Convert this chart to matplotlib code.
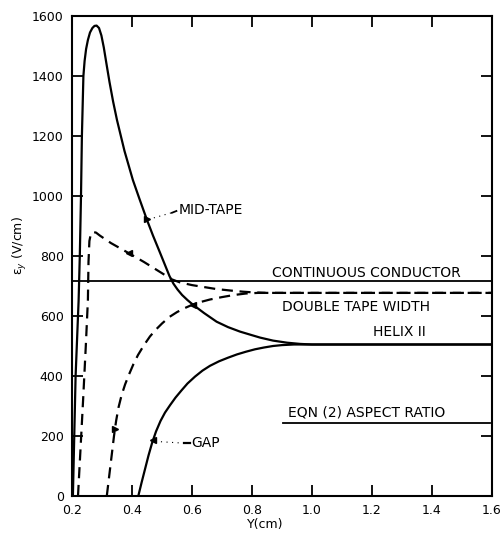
import matplotlib
matplotlib.use("Agg")
import matplotlib.pyplot as plt

# ---- data ----
mid_x = [0.203, 0.212, 0.222, 0.226, 0.230, 0.233, 0.238, 0.242, 0.247, 0.253, 0.26, 0.268, 0.275,
         0.282, 0.29, 0.298, 0.306, 0.315, 0.325, 0.337, 0.35, 0.375, 0.403, 0.425, 0.45, 0.47,
         0.493, 0.51, 0.525, 0.538, 0.552, 0.567, 0.585, 0.604, 0.64, 0.682, 0.72, 0.76, 0.8,
         0.827, 0.87, 0.917, 0.96, 1.0, 1.6]
mid_y = [0, 400, 650, 800, 1000, 1200, 1400, 1450, 1490, 1520, 1545, 1560, 1567,
         1568, 1560, 1535, 1495, 1440, 1380, 1315, 1253, 1150, 1053, 990, 920, 868,
         812, 770, 733, 708, 688, 670, 653, 637, 610, 581, 563, 548, 536,
         528, 518, 511, 507, 505, 505]

gap_x = [0.421, 0.432, 0.443, 0.455, 0.467, 0.48, 0.495, 0.51, 0.527, 0.545, 0.565, 0.585, 0.61,
         0.635, 0.66, 0.69, 0.72, 0.75, 0.78, 0.81, 0.84, 0.87, 0.9, 0.94, 1.0, 1.6]
gap_y = [0, 45, 88, 135, 177, 215, 250, 278, 303, 328, 352, 375, 398,
         418, 434, 449, 461, 472, 481, 489, 495, 500, 503, 505, 505, 505]

dmid_x = [0.22, 0.228, 0.237, 0.246, 0.253, 0.255, 0.258, 0.263, 0.27, 0.28, 0.293, 0.33, 0.383,
          0.44, 0.493, 0.533, 0.56, 0.6, 0.637, 0.68, 0.727, 0.77, 0.8, 0.85, 1.6]
dmid_y = [0, 150, 320, 500, 653, 780, 850, 875, 880, 878, 868, 843, 813,
          780, 747, 722, 712, 703, 697, 690, 685, 681, 679, 677, 677]

dgap_x = [0.316, 0.322, 0.328, 0.334, 0.34, 0.347, 0.355, 0.365, 0.377, 0.39, 0.405, 0.42, 0.44,
          0.46, 0.48, 0.5, 0.525, 0.55, 0.575, 0.6, 0.63, 0.66, 0.7, 0.74, 0.78, 0.82, 0.9, 1.6]
dgap_y = [0, 50, 100, 150, 200, 250, 295, 335, 372, 405, 440, 470, 503,
          532, 555, 575, 597, 613, 626, 637, 647, 655, 663, 670, 675, 677, 677, 677]

continuous_y = 717
eqn_y = 243

x_ticks = [0.2, 0.4, 0.6, 0.8, 1.0, 1.2, 1.4, 1.6]
x_tick_labels = ["0.2", "0.4", "0.6", "0.8", "1.0", "1.2", "1.4", "1.6"]
y_ticks = [0, 200, 400, 600, 800, 1000, 1200, 1400, 1600]
y_tick_labels = ["0", "200", "400", "600", "800", "1000", "1200", "1400", "1600"]

# ---- figure ----
fig = plt.figure(figsize=(5.01, 5.38), dpi=100)
ax = fig.add_axes([72 / 501, 42 / 538, 420 / 501, 480 / 538])

lw = 1.6
dash = (0, (5, 3))
common = dict(color="black", solid_joinstyle="round", dash_joinstyle="round")
ax.plot(mid_x, mid_y, lw=lw, **common)
ax.plot(gap_x, gap_y, lw=lw, **common)
ax.plot(dmid_x, dmid_y, lw=lw, linestyle=dash, **common)
ax.plot(dgap_x, dgap_y, lw=lw, linestyle=dash, **common)
ax.plot([0.2, 1.6], [continuous_y, continuous_y], color="black", lw=1.3)
ax.plot([0.905, 1.595], [eqn_y, eqn_y], color="black", lw=1.3)

# small arrow marks on curves
ax.plot([0.449], [922], marker=">", color="black", ms=5)
ax.plot([0.39], [809], marker="<", color="black", ms=5)
ax.plot([0.343], [225], marker=">", color="black", ms=5)
ax.plot([0.471], [188], marker="<", color="black", ms=5)
ax.plot([0.604], [637], marker="<", color="black", ms=4)

# leaders
ax.plot([0.455, 0.535], [922, 945], color="black", lw=0.8, linestyle=(0, (1, 4)))
ax.plot([0.533, 0.548], [944, 950], color="black", lw=1.3)
ax.plot([0.478, 0.575], [182, 176], color="black", lw=0.8, linestyle=(0, (1, 4)))
ax.plot([0.575, 0.595], [176, 176], color="black", lw=1.6)

fs = 10
ax.text(0.555, 953, "MID-TAPE", fontsize=fs, ha="left", va="center")
ax.text(0.598, 177, "GAP", fontsize=fs, ha="left", va="center")
ax.text(0.867, 743, "CONTINUOUS CONDUCTOR", fontsize=fs, ha="left", va="center")
ax.text(0.9, 630, "DOUBLE TAPE WIDTH", fontsize=fs, ha="left", va="center")
ax.text(1.203, 547, "HELIX II", fontsize=fs, ha="left", va="center")
ax.text(0.92, 280, "EQN (2) ASPECT RATIO", fontsize=fs, ha="left", va="center")

ax.set_xlim(0.2, 1.6)
ax.set_ylim(0, 1600)
ax.set_xticks(x_ticks)
ax.set_xticklabels(x_tick_labels)
ax.set_yticks(y_ticks)
ax.set_yticklabels(y_tick_labels)
ax.tick_params(direction="in", length=8, width=1.3, top=True, right=True,
               labelsize=9, pad=6)
for s in ax.spines.values():
    s.set_linewidth(1.5)

ax.set_xlabel("Y(cm)", fontsize=9)
ax.xaxis.set_label_coords((265 - 72) / 420, -0.045)
fig.text(20 / 501, 1 - 246 / 538, "ε$_y$ (V/cm)", rotation=90, ha="center", va="center",
         fontsize=9)

fig.savefig("out.png", dpi=100)
